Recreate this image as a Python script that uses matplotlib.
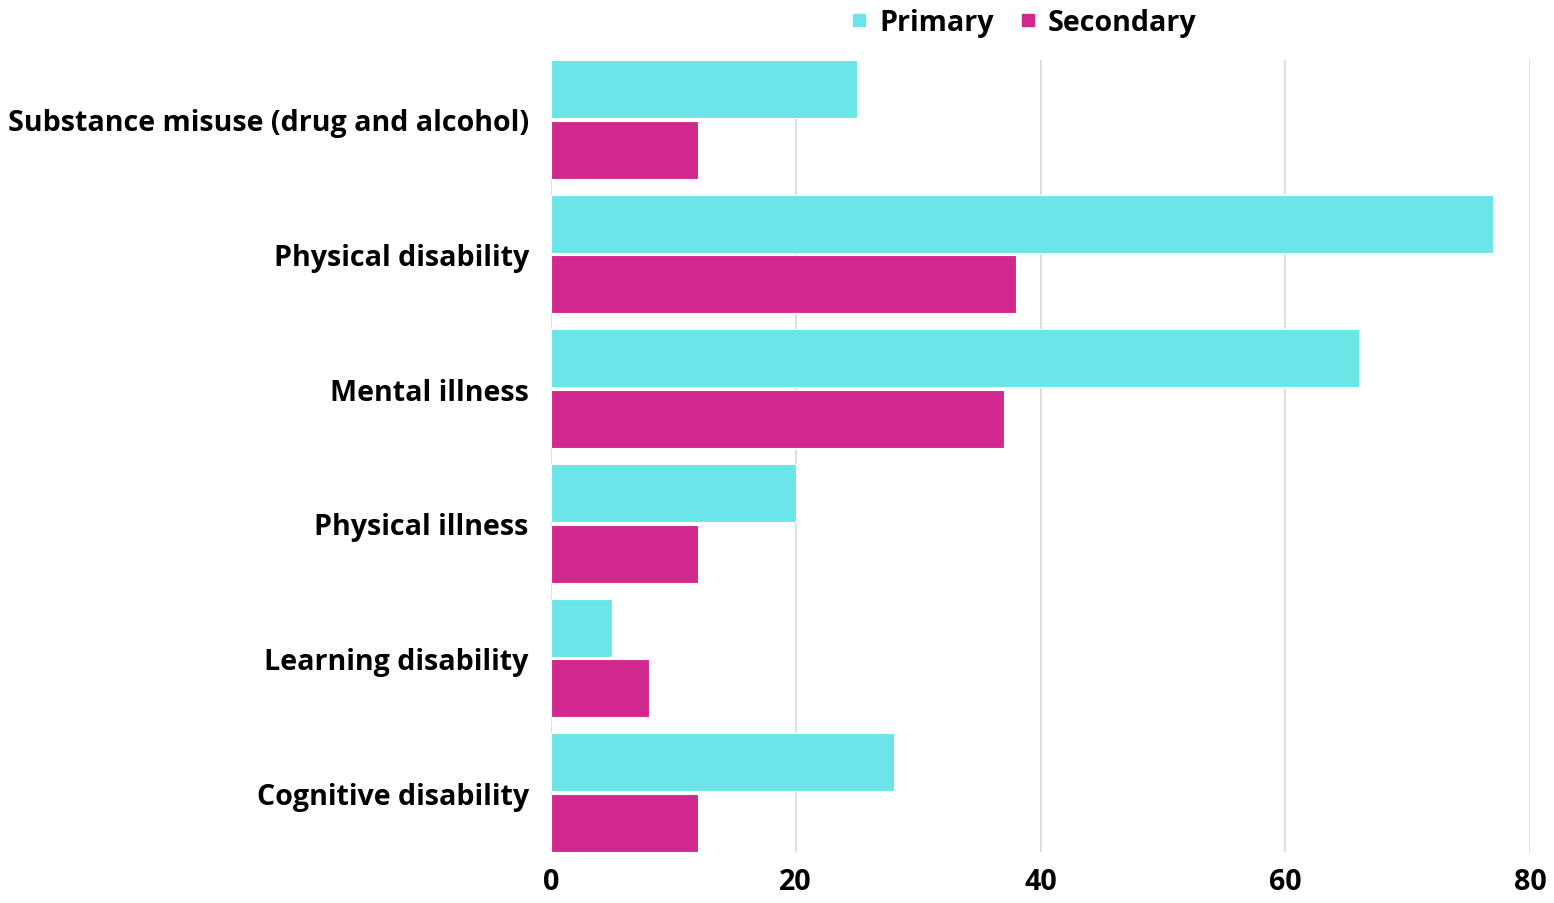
import numpy as np
import matplotlib
matplotlib.use("Agg")
import matplotlib.pyplot as plt
from matplotlib.lines import Line2D

categories = ["Substance misuse (drug and alcohol)", "Physical disability",
              "Mental illness", "Physical illness", "Learning disability",
              "Cognitive disability"]
primary = [25, 77, 66, 20, 5, 28]
secondary = [12, 38, 37, 12, 8, 12]
xticks = [0, 20, 40, 60, 80]

CYAN = "#6BE5E8"
MAGENTA = "#D1288E"
FS = 20.6

plt.rcParams["font.family"] = ["Open Sans", "DejaVu Sans"]
plt.rcParams["font.weight"] = "bold"

fig = plt.figure(figsize=(15.54, 9.04), dpi=100)
ax = fig.add_axes([551 / 1554, 1 - 853 / 904, (1530 - 551) / 1554, (853 - 61) / 904])

y = np.arange(len(categories))
h = 0.43
ax.barh(y - 0.225, primary, height=h, color=CYAN, edgecolor="white", linewidth=0.8, zorder=3)
ax.barh(y + 0.225, secondary, height=h, color=MAGENTA, edgecolor="white", linewidth=0.8, zorder=3)

ax.set_ylim(5.44, -0.44)
ax.set_xlim(0, 80)
ax.set_xticks(xticks)
ax.set_xticklabels([str(t) for t in xticks], fontsize=FS, fontweight="bold")
ax.set_yticks(y)
ax.set_yticklabels(categories, fontsize=FS, fontweight="bold")
ax.tick_params(length=0)
ax.tick_params(axis="y", pad=16)
ax.tick_params(axis="x", pad=11)
for s in ax.spines.values():
    s.set_visible(False)
for t in xticks:
    ax.axvline(t, color="#d9d9d9", linewidth=1.2, zorder=1)

handles = [Line2D([], [], marker="s", linestyle="", color=CYAN, markersize=8),
           Line2D([], [], marker="s", linestyle="", color=MAGENTA, markersize=8)]
fig.legend(handles, ["Primary", "Secondary"], loc="center", bbox_to_anchor=(1022 / 1554, 1 - 24 / 904),
           ncol=2, frameon=False, prop={"size": FS, "weight": "bold"},
           handletextpad=0.3, columnspacing=0.8, handlelength=0.8)

fig.savefig("out.png", dpi=100)
